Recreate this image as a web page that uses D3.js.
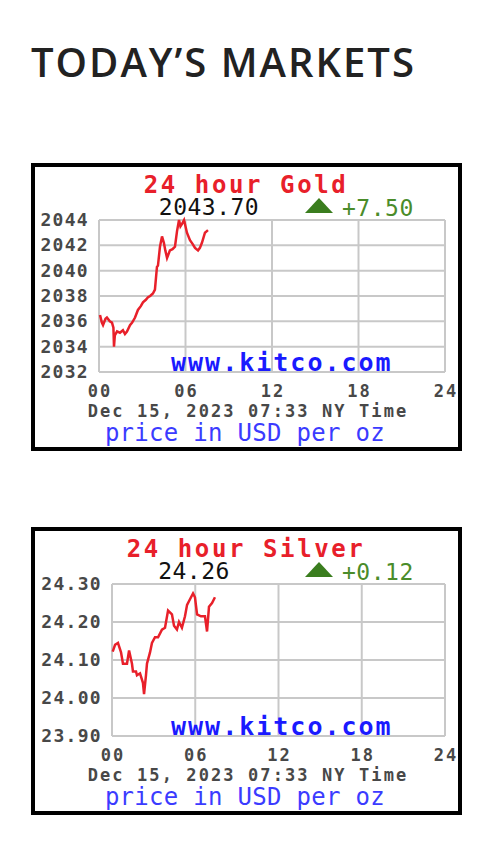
<!DOCTYPE html>
<html>
<head>
<meta charset="utf-8">
<script src="https://cdn.jsdelivr.net/npm/d3@7"></script>
<style>
  body { margin: 0; background: #fff; }
  svg { display: block; }
</style>
</head>
<body>
<svg id="page" width="504" height="852"></svg>
<script>
// hours since midnight NY time, and the price at that moment
let goldHours  = [0.07, 0.2, 0.28, 0.45, 0.55, 0.75, 0.9, 1.0, 1.04, 1.1, 1.25, 1.45, 1.66, 1.8, 1.94, 2.15, 2.3, 2.5, 2.7, 2.9, 3.05, 3.25, 3.4, 3.55, 3.74, 3.88, 4.02, 4.09, 4.23, 4.37, 4.5, 4.6, 4.72, 4.92, 5.1, 5.27, 5.41, 5.55, 5.65, 5.76, 5.9, 6.1, 6.31, 6.5, 6.66, 6.87, 7.0, 7.14, 7.35, 7.56]
let goldPrices = [2036.5, 2035.9, 2035.7, 2036.2, 2036.3, 2036.0, 2035.9, 2035.5, 2034.0, 2034.9, 2035.2, 2035.1, 2035.3, 2035.0, 2035.2, 2035.7, 2035.9, 2036.3, 2036.9, 2037.2, 2037.5, 2037.7, 2037.9, 2038.0, 2038.2, 2038.5, 2040.3, 2040.4, 2041.9, 2042.7, 2042.2, 2041.6, 2041.0, 2041.6, 2041.7, 2041.9, 2043.1, 2044.0, 2043.5, 2043.7, 2044.0, 2043.0, 2042.4, 2042.1, 2041.8, 2041.6, 2041.8, 2042.2, 2043.0, 2043.2]

let silverHours  = [0.05, 0.22, 0.43, 0.65, 0.79, 1.08, 1.23, 1.44, 1.51, 1.73, 1.8, 2.02, 2.23, 2.31, 2.45, 2.52, 2.74, 2.88, 3.1, 3.32, 3.6, 3.82, 4.04, 4.32, 4.47, 4.68, 4.83, 5.04, 5.26, 5.41, 5.62, 5.84, 5.98, 6.13, 6.41, 6.7, 6.85, 6.99, 7.21, 7.42]
let silverPrices = [24.122, 24.14, 24.145, 24.12, 24.09, 24.09, 24.125, 24.09, 24.07, 24.07, 24.06, 24.065, 24.04, 24.01, 24.06, 24.09, 24.12, 24.145, 24.16, 24.16, 24.18, 24.185, 24.23, 24.22, 24.19, 24.18, 24.2, 24.185, 24.215, 24.245, 24.26, 24.275, 24.265, 24.22, 24.215, 24.215, 24.175, 24.24, 24.25, 24.265]

let hourTicks   = [0, 6, 12, 18, 24]
let goldTicks   = [2044, 2042, 2040, 2038, 2036, 2034, 2032]
let silverTicks = [24.30, 24.20, 24.10, 24.00, 23.90]

let svg = d3.select('#page')

svg.append('text')
  .attr('x', 31)
  .attr('y', 77)
  .attr('font-family', 'Open Sans')
  .attr('font-weight', 600)
  .attr('font-size', 40)
  .attr('letter-spacing', 2)
  .attr('fill', '#222')
  .text('TODAY\u2019S MARKETS')

let mono = 'DejaVu Sans Mono'
let labelGray = '#484848'

function drawChart(top, opts) {
  let g = svg.append('g').attr('transform', `translate(0,${top})`)

  g.append('rect')
    .attr('x', 33).attr('y', 2)
    .attr('width', 427).attr('height', 284)
    .attr('fill', '#fff')
    .attr('stroke', '#000')
    .attr('stroke-width', 4)

  let x = d3.scaleLinear().domain([0, 24]).range([opts.left, 445])
  let y = d3.scaleLinear().domain(d3.extent(opts.ticks)).range([209, 57])

  // grid
  g.append('g')
    .selectAll('line')
    .data(opts.ticks)
    .join('line')
    .attr('x1', opts.left).attr('x2', 445)
    .attr('y1', d => y(d)).attr('y2', d => y(d))
    .attr('stroke', '#c8c8c8').attr('stroke-width', 2)
  g.append('g')
    .selectAll('line')
    .data(hourTicks)
    .join('line')
    .attr('x1', d => x(d)).attr('x2', d => x(d))
    .attr('y1', 57).attr('y2', 209)
    .attr('stroke', '#c8c8c8').attr('stroke-width', 2)

  // tick labels
  g.append('g')
    .selectAll('text')
    .data(opts.ticks)
    .join('text')
    .attr('x', opts.left - 10)
    .attr('y', d => y(d) + 6)
    .attr('text-anchor', 'end')
    .attr('font-family', mono).attr('font-weight', 'bold').attr('font-size', 18)
    .attr('letter-spacing', 1.3)
    .attr('fill', labelGray)
    .text(opts.fmt)
  g.append('g')
    .selectAll('text')
    .data(hourTicks)
    .join('text')
    .attr('x', d => x(d) + 1)
    .attr('y', 234)
    .attr('text-anchor', 'middle')
    .attr('font-family', mono).attr('font-weight', 'bold').attr('font-size', 17)
    .attr('letter-spacing', 2)
    .attr('fill', labelGray)
    .text(d => d3.format('02')(d))

  g.append('text')
    .attr('x', 171).attr('y', 208)
    .attr('font-family', mono).attr('font-weight', 'bold').attr('font-size', 25)
    .attr('letter-spacing', 2)
    .attr('fill', '#1a1aff')
    .text('www.kitco.com')

  let line = d3.line()
    .x(d => x(d[0]))
    .y(d => y(d[1]))
  g.append('path')
    .datum(d3.zip(opts.hours, opts.prices))
    .attr('d', line)
    .attr('fill', 'none')
    .attr('stroke', '#e8202a')
    .attr('stroke-width', 2.5)

  // header
  g.append('text')
    .attr('x', 246).attr('y', 30)
    .attr('text-anchor', 'middle')
    .attr('font-family', mono).attr('font-weight', 'bold').attr('font-size', 24)
    .attr('letter-spacing', 2.6)
    .attr('fill', '#e8202a')
    .text(opts.title)
  g.append('text')
    .attr('x', opts.priceX).attr('y', 52)
    .attr('text-anchor', 'middle')
    .attr('font-family', mono).attr('font-size', 23)
    .attr('letter-spacing', 0.5)
    .attr('fill', '#111')
    .text(opts.last)
  g.append('path')
    .attr('d', 'M305,50 L333,50 L319,35 Z')
    .attr('fill', '#3a7d1e')
  g.append('text')
    .attr('x', 342).attr('y', 53)
    .attr('font-family', mono).attr('font-size', 23)
    .attr('letter-spacing', 0.5)
    .attr('fill', '#4a8c2a')
    .text(opts.change)

  // footer
  g.append('text')
    .attr('x', 248).attr('y', 254)
    .attr('text-anchor', 'middle')
    .attr('font-family', mono).attr('font-weight', 'bold').attr('font-size', 17)
    .attr('letter-spacing', 2.1)
    .attr('fill', labelGray)
    .text('Dec 15, 2023 07:33 NY Time')
  g.append('text')
    .attr('x', 245).attr('y', 278)
    .attr('text-anchor', 'middle')
    .attr('font-family', mono).attr('font-size', 24)
    .attr('letter-spacing', 0.3)
    .attr('fill', '#3b3bff')
    .text('price in USD per oz')
}

drawChart(163, {
  left: 99, ticks: goldTicks, fmt: d3.format('d'),
  hours: goldHours, prices: goldPrices,
  title: '24 hour Gold', last: '2043.70', priceX: 209, change: '+7.50'
})
drawChart(527, {
  left: 112, ticks: silverTicks, fmt: d3.format('.2f'),
  hours: silverHours, prices: silverPrices,
  title: '24 hour Silver', last: '24.26', priceX: 194, change: '+0.12'
})
</script>
</body>
</html>
